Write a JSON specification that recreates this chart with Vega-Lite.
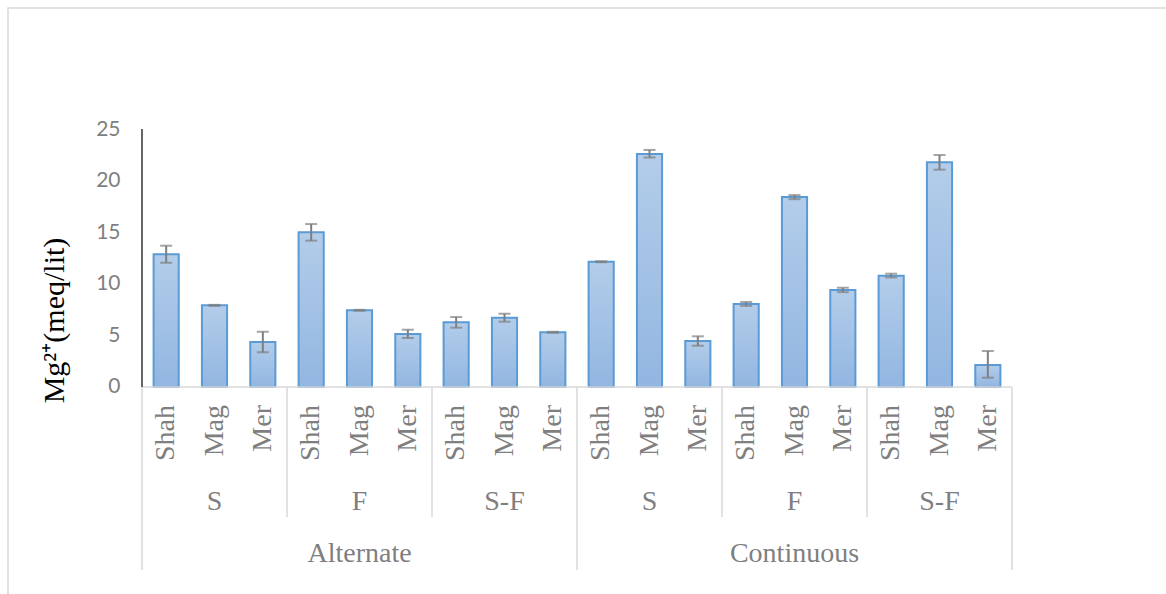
{
  "$schema": "https://vega.github.io/schema/vega-lite/v6.json",
  "width": 1162,
  "height": 590,
  "autosize": {"type": "none"},
  "padding": {"left": 8, "top": 8, "right": -4, "bottom": -4},
  "background": "white",
  "config": {"view": {"stroke": "#d9d9d9", "strokeWidth": 1.5}},
  "data": {
    "values": [
      {"mode": "Alternate", "trt": "S", "var": "Shah", "cat": "A-S-Shah", "mean": 12.86, "lo": 12.04, "hi": 13.69},
      {"mode": "Alternate", "trt": "S", "var": "Mag", "cat": "A-S-Mag", "mean": 7.91, "lo": 7.86, "hi": 7.96},
      {"mode": "Alternate", "trt": "S", "var": "Mer", "cat": "A-S-Mer", "mean": 4.36, "lo": 3.36, "hi": 5.36},
      {"mode": "Alternate", "trt": "F", "var": "Shah", "cat": "A-F-Shah", "mean": 14.99, "lo": 14.18, "hi": 15.79},
      {"mode": "Alternate", "trt": "F", "var": "Mag", "cat": "A-F-Mag", "mean": 7.43, "lo": 7.38, "hi": 7.48},
      {"mode": "Alternate", "trt": "F", "var": "Mer", "cat": "A-F-Mer", "mean": 5.14, "lo": 4.75, "hi": 5.55},
      {"mode": "Alternate", "trt": "S-F", "var": "Shah", "cat": "A-SF-Shah", "mean": 6.27, "lo": 5.75, "hi": 6.78},
      {"mode": "Alternate", "trt": "S-F", "var": "Mag", "cat": "A-SF-Mag", "mean": 6.72, "lo": 6.33, "hi": 7.1},
      {"mode": "Alternate", "trt": "S-F", "var": "Mer", "cat": "A-SF-Mer", "mean": 5.3, "lo": 5.25, "hi": 5.35},
      {"mode": "Continuous", "trt": "S", "var": "Shah", "cat": "C-S-Shah", "mean": 12.14, "lo": 12.09, "hi": 12.19},
      {"mode": "Continuous", "trt": "S", "var": "Mag", "cat": "C-S-Mag", "mean": 22.58, "lo": 22.24, "hi": 22.97},
      {"mode": "Continuous", "trt": "S", "var": "Mer", "cat": "C-S-Mer", "mean": 4.46, "lo": 4.0, "hi": 4.91},
      {"mode": "Continuous", "trt": "F", "var": "Shah", "cat": "C-F-Shah", "mean": 8.04, "lo": 7.86, "hi": 8.24},
      {"mode": "Continuous", "trt": "F", "var": "Mag", "cat": "C-F-Mag", "mean": 18.41, "lo": 18.2, "hi": 18.6},
      {"mode": "Continuous", "trt": "F", "var": "Mer", "cat": "C-F-Mer", "mean": 9.4, "lo": 9.19, "hi": 9.62},
      {"mode": "Continuous", "trt": "S-F", "var": "Shah", "cat": "C-SF-Shah", "mean": 10.79, "lo": 10.62, "hi": 10.98},
      {"mode": "Continuous", "trt": "S-F", "var": "Mag", "cat": "C-SF-Mag", "mean": 21.77, "lo": 21.06, "hi": 22.48},
      {"mode": "Continuous", "trt": "S-F", "var": "Mer", "cat": "C-SF-Mer", "mean": 2.13, "lo": 0.9, "hi": 3.49}
    ]
  },
  "layer": [
    {
      "mark": {
        "type": "bar",
        "width": {"band": 0.52},
        "stroke": "#5b9bd5",
        "strokeWidth": 2,
        "fill": {"gradient": "linear", "x1": 0, "y1": 0, "x2": 0, "y2": 1,
          "stops": [{"offset": 0, "color": "#b3cdea"}, {"offset": 1, "color": "#92b6e1"}]}
      },
      "encoding": {
        "x": {
          "field": "cat", "type": "nominal", "sort": null,
          "scale": {"type": "band", "paddingInner": 0, "paddingOuter": 0, "range": [134, 1004],
            "domain": ["A-S-Shah","A-S-Mag","A-S-Mer","A-F-Shah","A-F-Mag","A-F-Mer","A-SF-Shah","A-SF-Mag","A-SF-Mer","C-S-Shah","C-S-Mag","C-S-Mer","C-F-Shah","C-F-Mag","C-F-Mer","C-SF-Shah","C-SF-Mag","C-SF-Mer"]},
          "axis": null
        },
        "y": {
          "field": "mean", "type": "quantitative",
          "scale": {"domain": [-20.446, 36.725], "nice": false, "zero": false},
          "axis": {
            "title": "Mg²⁺(meq/lit)",
            "values": [0, 5, 10, 15, 20, 25],
            "domain": false, "ticks": false, "grid": false,
            "offset": -134,
            "labelPadding": 22,
            "labelFont": "Lato", "labelFontSize": 21, "labelColor": "#7f7f7f",
            "titleFont": "Liberation Serif", "titleFontSize": 30, "titleFontWeight": "normal", "titleColor": "#000000",
            "titleAngle": -90, "titleAlign": "center", "titleBaseline": "middle",
            "titleX": -88, "titleY": 312
          }
        }
      }
    },
    {
      "mark": {"type": "rule", "color": "#7f7f7f", "strokeWidth": 2},
      "encoding": {
        "x": {"field": "cat", "type": "nominal", "sort": null},
        "y": {"field": "lo", "type": "quantitative"},
        "y2": {"field": "hi"}
      }
    },
    {
      "mark": {"type": "tick", "color": "#7f7f7f", "size": 12, "thickness": 2, "orient": "horizontal"},
      "encoding": {
        "x": {"field": "cat", "type": "nominal", "sort": null},
        "y": {"field": "lo", "type": "quantitative"}
      }
    },
    {
      "mark": {"type": "tick", "color": "#7f7f7f", "size": 12, "thickness": 2, "orient": "horizontal"},
      "encoding": {
        "x": {"field": "cat", "type": "nominal", "sort": null},
        "y": {"field": "hi", "type": "quantitative"}
      }
    },
    {
      "mark": {"type": "bar", "width": {"band": 1}, "fill": null, "fillOpacity": 0, "stroke": "#d9d9d9", "strokeWidth": 1.5},
      "encoding": {
        "x": {"field": "cat", "type": "nominal", "sort": null},
        "y": {"datum": 0, "type": "quantitative"},
        "y2": {"datum": 0}
      }
    },
    {
      "transform": [{"filter": "datum.var == 'Shah' && datum.trt != 'S'"}],
      "mark": {"type": "rule", "color": "#d9d9d9", "strokeWidth": 1.5},
      "encoding": {
        "x": {"field": "cat", "type": "nominal", "sort": null, "bandPosition": 0},
        "y": {"datum": 0, "type": "quantitative"},
        "y2": {"datum": -12.6}
      }
    },
    {
      "transform": [{"filter": "datum.var == 'Shah' && datum.trt == 'S'"}],
      "mark": {"type": "rule", "color": "#d9d9d9", "strokeWidth": 1.5},
      "encoding": {
        "x": {"field": "cat", "type": "nominal", "sort": null, "bandPosition": 0},
        "y": {"datum": 0, "type": "quantitative"},
        "y2": {"datum": -17.73}
      }
    },
    {
      "transform": [{"filter": "datum.cat == 'C-SF-Mer'"}],
      "mark": {"type": "rule", "color": "#d9d9d9", "strokeWidth": 1.5},
      "encoding": {
        "x": {"field": "cat", "type": "nominal", "sort": null, "bandPosition": 1},
        "y": {"datum": 0, "type": "quantitative"},
        "y2": {"datum": -17.73}
      }
    },
    {
      "transform": [{"filter": "datum.cat == 'A-S-Shah'"}],
      "mark": {"type": "rule", "color": "#000000", "strokeWidth": 1.2},
      "encoding": {
        "x": {"field": "cat", "type": "nominal", "sort": null, "bandPosition": 0},
        "y": {"datum": 0, "type": "quantitative"},
        "y2": {"datum": 25}
      }
    },
    {
      "mark": {"type": "text", "angle": 270, "align": "right", "baseline": "middle", "font": "Liberation Serif", "fontSize": 28, "color": "#7f7f7f"},
      "encoding": {
        "x": {"field": "cat", "type": "nominal", "sort": null},
        "y": {"datum": -1.744, "type": "quantitative"},
        "text": {"field": "var"}
      }
    },
    {
      "transform": [{"filter": "datum.var == 'Mag'"}],
      "mark": {"type": "text", "align": "center", "baseline": "alphabetic", "font": "Liberation Serif", "fontSize": 28, "color": "#7f7f7f"},
      "encoding": {
        "x": {"field": "cat", "type": "nominal", "sort": null},
        "y": {"datum": -11.92, "type": "quantitative"},
        "text": {"field": "trt"}
      }
    },
    {
      "transform": [{"filter": "datum.var == 'Mag' && datum.trt == 'F'"}],
      "mark": {"type": "text", "align": "center", "baseline": "alphabetic", "font": "Liberation Serif", "fontSize": 28, "color": "#7f7f7f"},
      "encoding": {
        "x": {"field": "cat", "type": "nominal", "sort": null},
        "y": {"datum": -16.91, "type": "quantitative"},
        "text": {"field": "mode"}
      }
    }
  ]
}
